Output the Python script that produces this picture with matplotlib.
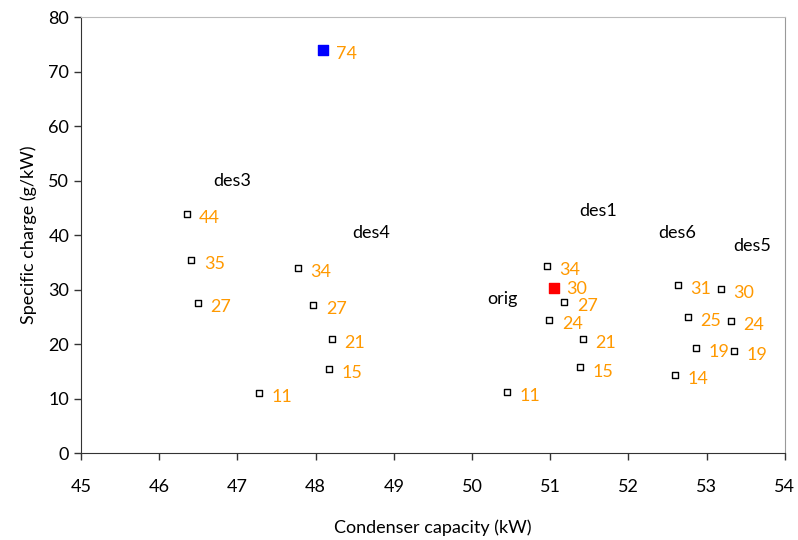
import matplotlib
matplotlib.use("Agg")
import matplotlib.pyplot as plt

plt.rcParams['font.family'] = ['Lato', 'DejaVu Sans']

# Design points (condenser capacity kW, specific charge g/kW, label)
cap = [46.35, 46.41, 46.49,
       47.77, 47.97, 48.21, 48.17, 47.28,
       50.96, 51.18, 50.99, 51.42, 51.38, 50.45,
       52.63, 52.76, 52.86, 52.60,
       53.18, 53.31, 53.35]
charge = [43.8, 35.5, 27.6,
          33.9, 27.2, 20.9, 15.5, 11.0,
          34.3, 27.7, 24.4, 21.0, 15.7, 11.2,
          30.8, 25.0, 19.3, 14.4,
          30.1, 24.2, 18.8]
labels = ['44', '35', '27',
          '34', '27', '21', '15', '11',
          '34', '27', '24', '21', '15', '11',
          '31', '25', '19', '14',
          '30', '24', '19']

# Highlighted points
blue_x, blue_y, blue_lab = 48.1, 73.9, '74'
red_x, red_y, red_lab = 51.05, 30.3, '30'

# Group names
group_names = ['des3', 'des4', 'des1', 'orig', 'des6', 'des5']
group_x = [46.93, 48.71, 51.61, 50.39, 52.62, 53.58]
group_y = [49.9, 40.4, 44.4, 28.3, 40.4, 38.0]

fig = plt.figure(figsize=(7.98, 5.40), dpi=100)
ax = fig.add_axes([0.1015, 0.161, 0.882, 0.8075])

orange = '#FF9900'
ax.scatter(cap, charge, marker='s', s=24, facecolors='white',
           edgecolors='black', linewidths=1.0, zorder=3)
ax.scatter([blue_x], [blue_y], marker='s', s=55, color='#0000FF', zorder=3)
ax.scatter([red_x], [red_y], marker='s', s=55, color='#FF0000', zorder=3)

for x, y, t in zip(cap, charge, labels):
    ax.annotate(t, (x, y), xytext=(9, -3), textcoords='offset points',
                ha='left', va='center', color=orange, fontsize=13)
ax.annotate(blue_lab, (blue_x, blue_y), xytext=(9, -3), textcoords='offset points',
            ha='left', va='center', color=orange, fontsize=13)
ax.annotate(red_lab, (red_x, red_y), xytext=(9, -1), textcoords='offset points',
            ha='left', va='center', color=orange, fontsize=13)

for n, x, y in zip(group_names, group_x, group_y):
    ax.text(x, y, n, ha='center', va='center', color='black', fontsize=13)

ax.set_xlim(45, 54)
ax.set_ylim(0, 80)
ax.set_xticks(range(45, 55))
ax.set_yticks(range(0, 81, 10))
ax.tick_params(axis='both', direction='out', length=5, width=1, labelsize=13,
               colors='#333333', labelcolor='black')
ax.tick_params(axis='x', pad=14)
ax.set_xlabel('Condenser capacity (kW)', fontsize=13, labelpad=17)
ax.set_ylabel('Specific charge (g/kW)', fontsize=13, labelpad=8)

ax.spines['left'].set_color('#333333')
ax.spines['bottom'].set_color('#333333')
ax.spines['top'].set_color('#BBBBBB')
ax.spines['right'].set_color('#999999')

fig.savefig('out.png', dpi=100)
